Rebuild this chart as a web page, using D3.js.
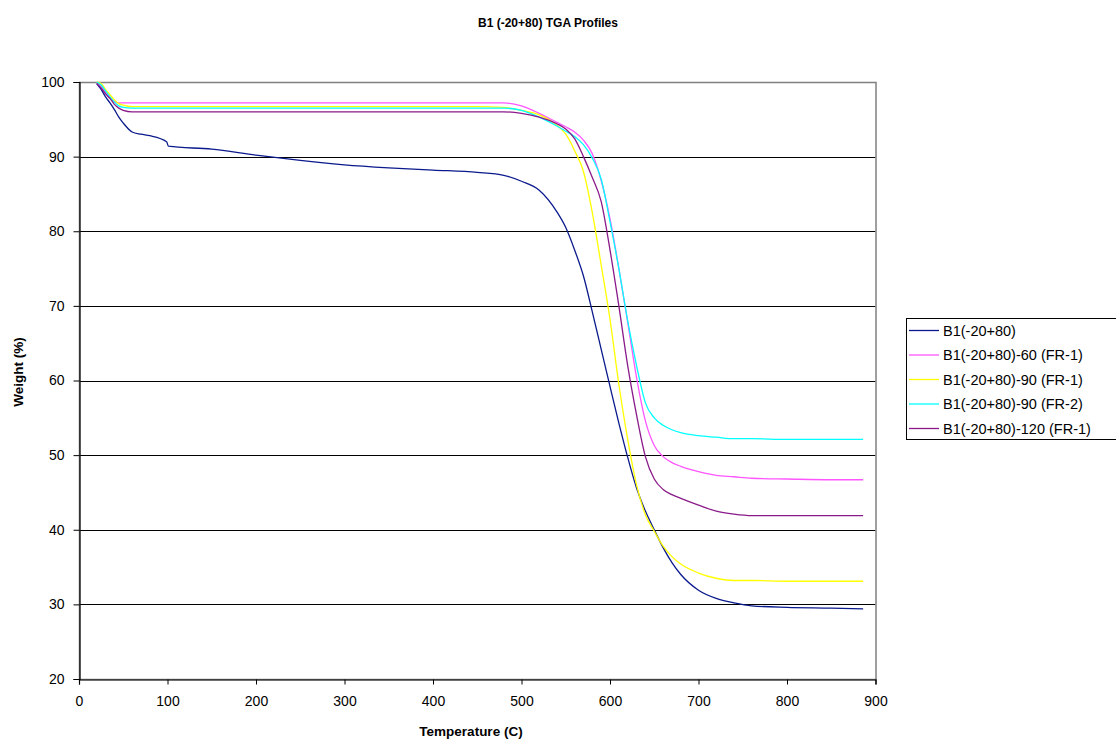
<!DOCTYPE html>
<html>
<head>
<meta charset="utf-8">
<script src="https://cdn.jsdelivr.net/npm/d3@7"></script>
<style>
  body { margin: 0; background: #fff; }
  svg { display: block; font-family: "Liberation Sans", Arial, sans-serif; }
</style>
</head>
<body>
<svg id="chart" width="1116" height="740"></svg>
<script>
// ---- data ----
const chartTitle = "B1 (-20+80) TGA Profiles";
const xTitle = "Temperature (C)";
const yTitle = "Weight (%)";
const xTicks = [0, 100, 200, 300, 400, 500, 600, 700, 800, 900];
const yTicks = [20, 30, 40, 50, 60, 70, 80, 90, 100];

const temps = [20, 25, 30, 35, 40, 45, 50, 60, 70, 80, 99, 101, 150, 200, 250, 300, 350, 400, 450, 480,
  500, 520, 540, 550, 560, 570, 580, 590, 600, 610, 620, 630, 640, 650, 660, 670, 680, 700, 720, 740, 760, 800, 850, 886];

const seriesNames = ["B1(-20+80)", "B1(-20+80)-60 (FR-1)", "B1(-20+80)-90 (FR-1)", "B1(-20+80)-90 (FR-2)", "B1(-20+80)-120 (FR-1)"];
const seriesColors = ["#0a1a8c", "#FF55FF", "#FFFF00", "#00FFFF", "#8a1a8a"];

const wB1 = [99.8, 99.0, 98.0, 97.2, 96.3, 95.3, 94.5, 93.3, 93.0, 92.8, 92.0, 91.4, 91.0, 90.2, 89.5, 88.9, 88.5, 88.2, 87.9, 87.5,
  86.7, 85.5, 82.6, 80.5, 77.5, 74.0, 69.2, 64.2, 59.2, 54.3, 49.7, 45.6, 42.5, 40.0, 37.6, 35.6, 34.0, 31.9, 30.8, 30.2, 29.8, 29.6, 29.5, 29.4];
const wB1_60_FR1 = [100, 99.5, 98.6, 97.8, 97.4, 97.2, 97.2, 97.2, 97.2, 97.2, 97.2, 97.2, 97.2, 97.2, 97.2, 97.2, 97.2, 97.2, 97.2, 97.2,
  96.8, 95.8, 94.6, 94.0, 93.3, 92.2, 90.4, 86.8, 81.7, 75.0, 67.8, 60.4, 54.6, 51.3, 49.8, 49.0, 48.5, 47.8, 47.3, 47.1, 46.9, 46.8, 46.7, 46.7];
const wB1_90_FR1 = [100, 99.8, 99.0, 98.3, 97.6, 97.1, 96.9, 96.7, 96.7, 96.7, 96.7, 96.7, 96.7, 96.7, 96.7, 96.7, 96.7, 96.7, 96.7, 96.6,
  96.2, 95.6, 94.2, 93.0, 90.8, 88.0, 82.5, 75.5, 68.2, 59.5, 52.1, 46.0, 42.0, 39.8, 37.8, 36.4, 35.4, 34.2, 33.5, 33.2, 33.2, 33.1, 33.1, 33.1];
const wB1_90_FR2 = [100, 99.6, 98.8, 98.0, 97.3, 96.8, 96.6, 96.5, 96.5, 96.5, 96.5, 96.5, 96.5, 96.5, 96.5, 96.5, 96.5, 96.5, 96.5, 96.5,
  96.2, 95.3, 94.1, 93.4, 92.7, 91.6, 89.8, 87.0, 81.3, 75.0, 68.0, 62.0, 57.0, 55.0, 54.0, 53.4, 53.0, 52.6, 52.4, 52.2, 52.2, 52.1, 52.1, 52.1];
const wB1_120_FR1 = [99.8, 99.2, 98.4, 97.8, 97.0, 96.5, 96.2, 96.0, 96.0, 96.0, 96.0, 96.0, 96.0, 96.0, 96.0, 96.0, 96.0, 96.0, 96.0, 96.0,
  95.8, 95.3, 94.4, 93.7, 92.4, 90.0, 87.2, 84.0, 77.5, 70.0, 62.0, 55.4, 49.8, 46.8, 45.4, 44.7, 44.2, 43.3, 42.5, 42.1, 41.9, 41.9, 41.9, 41.9];

const seriesValues = [wB1, wB1_60_FR1, wB1_90_FR1, wB1_90_FR2, wB1_120_FR1];

// ---- layout ----
const svg = d3.select("#chart");
const plot = { left: 79, right: 875.5, top: 82, bottom: 679 };

const x = d3.scaleLinear().domain([0, 900]).range([plot.left, plot.right]);
const y = d3.scaleLinear().domain([20, 100]).range([plot.bottom, plot.top]);

// gridlines
svg.append("g")
  .selectAll("line")
  .data(yTicks.filter(v => v > 20 && v < 100))
  .join("line")
  .attr("x1", plot.left).attr("x2", plot.right)
  .attr("y1", d => Math.round(y(d)) + 0.5).attr("y2", d => Math.round(y(d)) + 0.5)
  .attr("stroke", "#000").attr("stroke-width", 1);

// plot border (top/right gray)
svg.append("rect")
  .attr("x", plot.left + 0.5).attr("y", Math.round(plot.top) + 0.5)
  .attr("width", plot.right - plot.left).attr("height", plot.bottom - plot.top)
  .attr("fill", "none").attr("stroke", "#808080").attr("stroke-width", 1.5);

// series lines
const line = d3.line()
  .x(d => x(d[0]))
  .y(d => y(d[1]))
  .curve(d3.curveMonotoneX);

seriesValues.forEach((vals, i) => {
  svg.append("path")
    .datum(temps.map((t, j) => [t, vals[j]]))
    .attr("d", line)
    .attr("fill", "none")
    .attr("stroke", seriesColors[i])
    .attr("stroke-width", 1.3);
});

// axes
const yAxis = d3.axisLeft(y).tickValues(yTicks).tickSize(6).tickPadding(9).tickFormat(d3.format("d"));
const xAxis = d3.axisBottom(x).tickValues(xTicks).tickSize(5).tickPadding(9).tickFormat(d3.format("d"));

const gy = svg.append("g").attr("transform", `translate(${Math.round(plot.left) + 0.5},0)`).call(yAxis);
const gx = svg.append("g").attr("transform", `translate(0,${Math.round(plot.bottom) + 0.5})`).call(xAxis);
[gx, gy].forEach(g => {
  g.select(".domain").attr("stroke", "#000").attr("stroke-width", 1.2);
  g.selectAll(".tick line").attr("stroke", "#000");
  g.selectAll(".tick text").attr("fill", "#000").style("font-size", "14px").style("font-family", "'Liberation Sans', Arial, sans-serif");
});
gx.selectAll(".tick text").attr("dy", "0.9em");

// titles
svg.append("text").attr("x", 548).attr("y", 27).attr("text-anchor", "middle")
  .style("font-weight", "bold").style("font-size", "12px").text(chartTitle);
svg.append("text").attr("x", 471).attr("y", 736).attr("text-anchor", "middle")
  .style("font-weight", "bold").style("font-size", "13.5px").text(xTitle);
svg.append("text").attr("transform", "translate(23,372) rotate(-90)").attr("text-anchor", "middle")
  .style("font-weight", "bold").style("font-size", "13.5px").text(yTitle);

// legend
const lg = svg.append("g").attr("transform", "translate(906,318)");
lg.append("rect").attr("x", 0.5).attr("y", 0.5).attr("width", 230).attr("height", 121)
  .attr("fill", "#fff").attr("stroke", "#000").attr("stroke-width", 1);
const rows = lg.selectAll("g.row").data(seriesNames).join("g")
  .attr("class", "row")
  .attr("transform", (d, i) => `translate(0,${12.5 + i * 24.5})`);
rows.append("line").attr("x1", 3).attr("x2", 33).attr("y1", 0).attr("y2", 0)
  .attr("stroke", (d, i) => seriesColors[i]).attr("stroke-width", 1.3);
rows.append("text").attr("x", 37).attr("y", 0).attr("dy", "0.35em")
  .style("font-size", "14.5px").text(d => d);
</script>
</body>
</html>
